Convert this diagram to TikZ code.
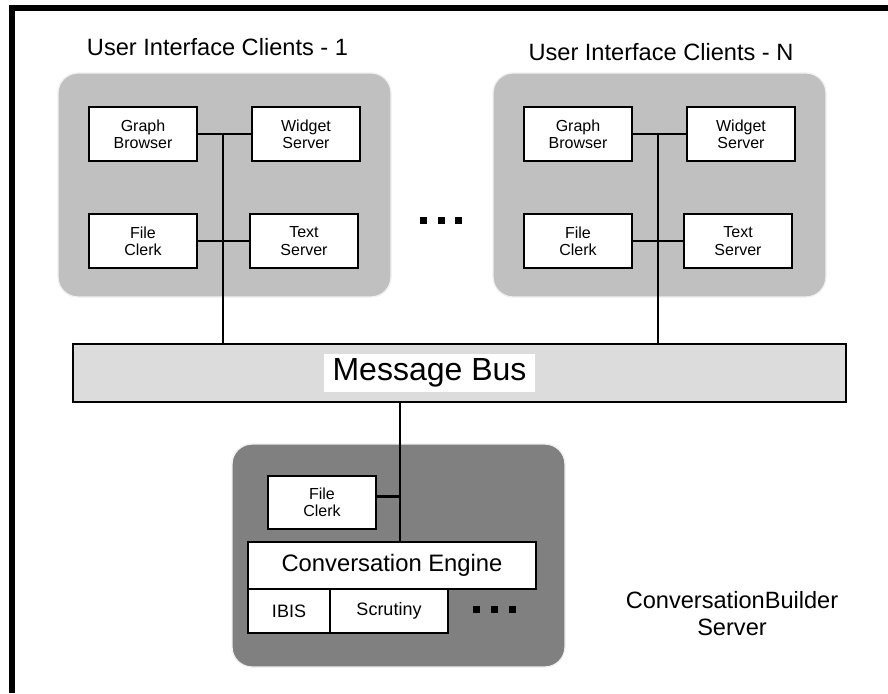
\documentclass[tikz,border=0pt]{standalone}
\usepackage{fontspec}
\setmainfont{Liberation Sans}
\usepackage{tikz}
\usepackage{xcolor}
\usetikzlibrary{
    calc,
    positioning
}
\definecolor{clientgray}{HTML}{C0C0C0}
\definecolor{servergray}{HTML}{808080}
\definecolor{busgray}{HTML}{DCDCDC}
\tikzset{pane/.style={rounded corners=15pt, fill=clientgray, draw=black!6, line width=1pt, minimum width=249.75pt, minimum height=168pt}}
\tikzset{comp/.style={draw=black, fill=white, line width=2pt, inner sep=0pt, align=center, minimum width=81pt, minimum height=40.5pt, font=\fontsize{12}{13}\selectfont}}
\tikzset{title/.style={font=\fontsize{17.7}{20}\selectfont, align=center}}
\tikzset{wire/.style={line width=2pt}}
\tikzset{dot/.style={fill=black, inner sep=0pt, minimum size=5.25pt}}

\begin{document}
\begin{tikzpicture}[x=0.75pt, y=-0.75pt]
                        \useasboundingbox (0,0) rectangle (888,693);
                        \draw[line width=4.5pt] (12,693) -- (12,8) -- (888,8);

                        % clients
                        \node[title] (ttl1) at (217.5,47) {User Interface Clients - 1};
                        \node[title] (ttln) at (661,52) {User Interface Clients - N};
                        \node[pane] (pane1) at (224.5,185) {};
                        \node[pane] (panen) at (659.5,185) {};

                        \node[comp] (gb1) at (143,134) {Graph\\Browser};
                        \node[comp] (ws1) at (306,134) {Widget\\Server};
                        \node[comp] (fc1) at (143,241) {File\\Clerk};
                        \node[comp] (ts1) at (304,241) {Text\\Server};
                        \node[comp] (gbn) at (578,134) {Graph\\Browser};
                        \node[comp] (wsn) at (741,134) {Widget\\Server};
                        \node[comp] (fcn) at (578,241) {File\\Clerk};
                        \node[comp] (tsn) at (738,241) {Text\\Server};

                        \node[dot] (d1) at (423.5,220.5) {};
                        \node[dot] (d2) at (441.5,220.5) {};
                        \node[dot] (d3) at (458.5,220.5) {};

                        % message bus
                        \node[draw=black, fill=busgray, line width=2pt, minimum width=579.75pt, minimum height=43.5pt] (bus) at (459.5,373) {};
                        \node[fill=white, inner sep=0pt, minimum width=158pt, minimum height=28.5pt, font=\fontsize{24}{26}\selectfont] (buslbl) at (429.5,373) {Message Bus};

                        \coordinate (tap1) at (223,134);
                        \coordinate (tapn) at (658,134);
                        \draw[wire]
                        (gb1.east) -- (ws1.west)
                        (fc1.east) -- (ts1.west)
                        (gbn.east) -- (wsn.west)
                        (fcn.east) -- (tsn.west)
                        (tap1) -- (tap1 |- bus.north)
                        (tapn) -- (tapn |- bus.north);

                        % server
                        \node[pane, fill=servergray, minimum height=167.25pt] (srv) at (398.5,555.5) {};
                        \node[comp, minimum height=39.75pt] (fcs) at (322,502.5) {File\\Clerk};
                        \node[comp, minimum width=216pt, minimum height=35.25pt, font=\fontsize{17.85}{20}\selectfont] (eng) at (392,565.5) {Conversation Engine};
                        \node[comp, minimum width=61.5pt, minimum height=33pt, font=\fontsize{13.5}{15}\selectfont] (ibis) at (289,611) {IBIS};
                        \node[comp, minimum width=88.5pt, minimum height=33pt, font=\fontsize{13.5}{15}\selectfont] (scr) at (389,611) {Scrutiny};

                        \node[dot] (d4) at (476.5,609.5) {};
                        \node[dot] (d5) at (494.5,609.5) {};
                        \node[dot] (d6) at (512.5,609.5) {};

                        \coordinate (drop) at (400,402);
                        \coordinate (fcsout) at ([yshift=4.5pt]fcs.east);
                        \draw[wire]
                        (drop) -- (drop |- eng.north)
                        (fcsout) -- (drop |- fcsout);

                        \node[title] (cbs) at (732,613.5) {ConversationBuilder\\Server};
                    \end{tikzpicture}
\end{document}
